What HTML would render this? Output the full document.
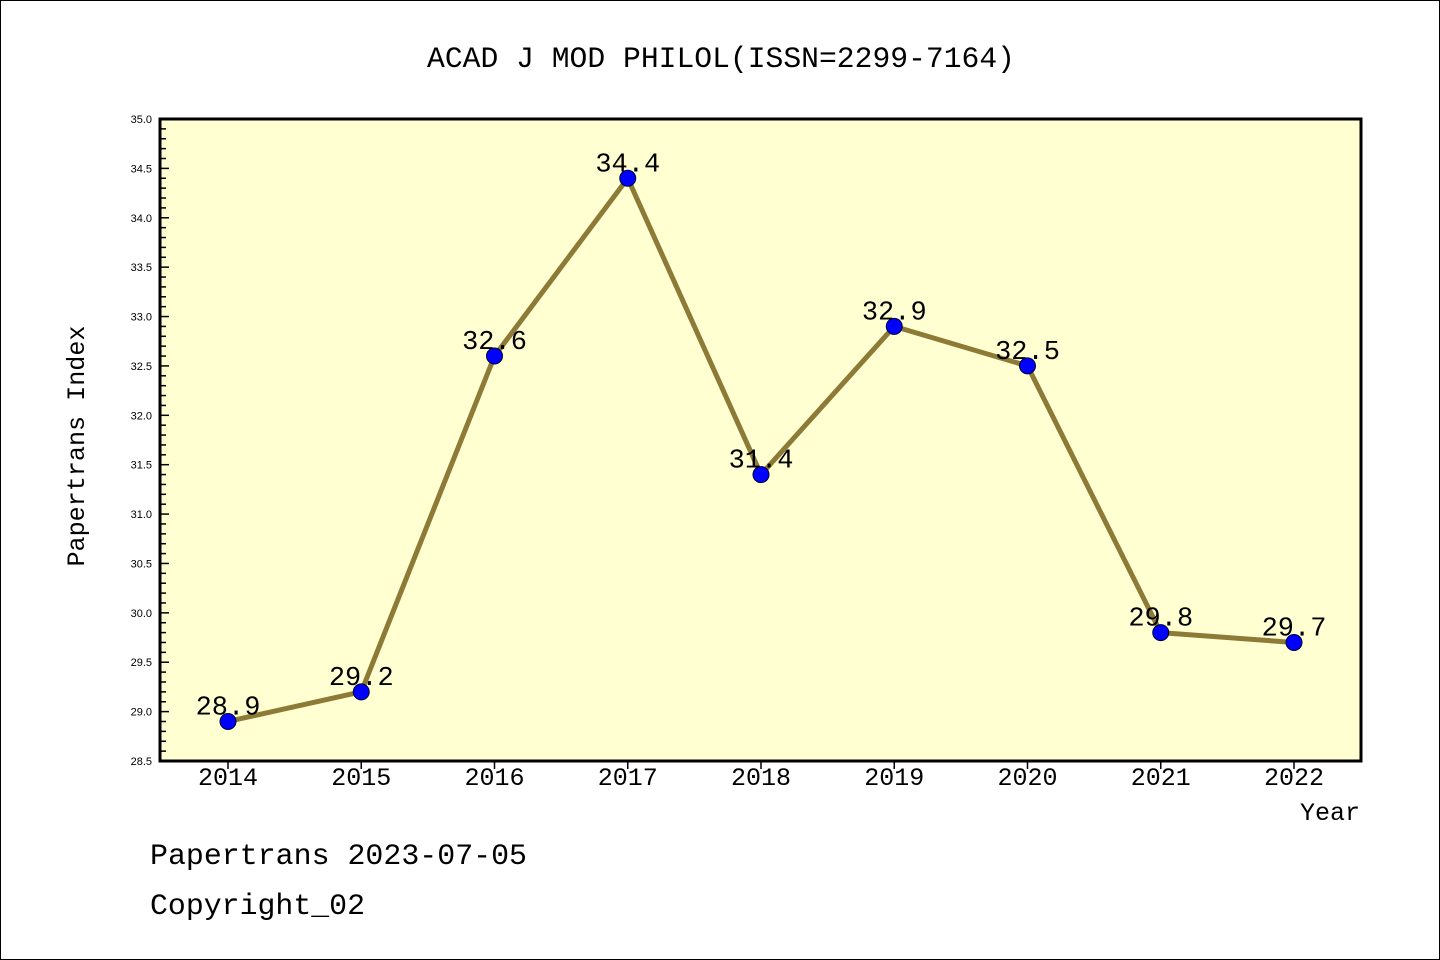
<!DOCTYPE html>
<html><head><meta charset="utf-8"><style>
html,body{margin:0;padding:0;background:#fff}
svg{display:block}
text{font-family:"Liberation Sans",sans-serif}
.mono{font-family:"Liberation Mono",monospace}
</style></head><body>
<svg id="chart" width="1440" height="960" xmlns="http://www.w3.org/2000/svg">
<rect x="0.5" y="0.5" width="1439" height="959" fill="#fff" stroke="#000"/>
<text class="mono" x="721" y="67" font-size="30" text-anchor="middle" textLength="588" lengthAdjust="spacingAndGlyphs">ACAD J MOD PHILOL(ISSN=2299-7164)</text>
<rect x="160" y="119" width="1201" height="642" fill="#ffffd2"/>
<g id="yaxis"></g>
<g id="xaxis"></g>
<g id="series"></g>
<rect x="160" y="119" width="1201" height="642" fill="none" stroke="#000" stroke-width="3"/>
<text class="mono" transform="translate(84,446) rotate(-90)" font-size="25" text-anchor="middle" textLength="241" lengthAdjust="spacingAndGlyphs">Papertrans Index</text>
<text class="mono" x="1360" y="820" font-size="25" text-anchor="end">Year</text>
<text class="mono" x="150" y="864" font-size="30" textLength="377" lengthAdjust="spacingAndGlyphs">Papertrans 2023-07-05</text>
<text class="mono" x="150" y="914" font-size="30" textLength="215" lengthAdjust="spacingAndGlyphs">Copyright_02</text>
</svg>
<script>
const years = ["2014","2015","2016","2017","2018","2019","2020","2021","2022"];
const values = [28.9,29.2,32.6,34.4,31.4,32.9,32.5,29.8,29.7];
const yTickLabels = ["28.5","29.0","29.5","30.0","30.5","31.0","31.5","32.0","32.5","33.0","33.5","34.0","34.5","35.0"];
const NS="http://www.w3.org/2000/svg";
const yMin=28.5,yMax=35.0,plotTop=119,plotBottom=761;
const yScale=v=>plotBottom-(v-yMin)/(yMax-yMin)*(plotBottom-plotTop);
const xScale=i=>228+i*(1294-228)/(years.length-1);
function mk(tag,attrs,parent){const e=document.createElementNS(NS,tag);for(const k in attrs)e.setAttribute(k,attrs[k]);parent.appendChild(e);return e;}
const ya=document.getElementById('yaxis'),xa=document.getElementById('xaxis'),sg=document.getElementById('series');
for(let k=0;k<=Math.round((yMax-yMin)*10);k++){
  const v=yMin+k/10,yy=yScale(v),major=k%5===0;
  const t=mk('line',{x1:160,x2:major?169:166,y1:yy,y2:yy,stroke:'#000','stroke-width':1.5},ya);
  
  
}
yTickLabels.forEach(s=>{
  const t=mk('text',{x:152,y:yScale(parseFloat(s))+4,'font-size':11,'text-anchor':'end'},ya);
  t.textContent=s;
  
  
});
years.forEach((s,i)=>{
  const l=mk('line',{x1:xScale(i),x2:xScale(i),y1:761,y2:769,stroke:'#000','stroke-width':1.5},xa);
  
  
  const t=mk('text',{x:xScale(i),y:785,'font-size':25,'text-anchor':'middle','class':'mono'},xa);
  t.textContent=s;
  
  
});
const pl=mk('polyline',{points:values.map((v,i)=>xScale(i)+','+yScale(v)).join(' '),fill:'none',stroke:'#8c7a36','stroke-width':5,'stroke-linejoin':'round'},sg);


values.forEach((v,i)=>{
  const c=mk('circle',{cx:xScale(i),cy:yScale(v),r:8,fill:'#0000ff',stroke:'#000033','stroke-width':1},sg);
  
  
  const t=mk('text',{x:xScale(i),y:yScale(v)-7,'font-size':27,'text-anchor':'middle','class':'mono'},sg);
  t.textContent=v.toFixed(1);
  
  
});
</script>
</body></html>
